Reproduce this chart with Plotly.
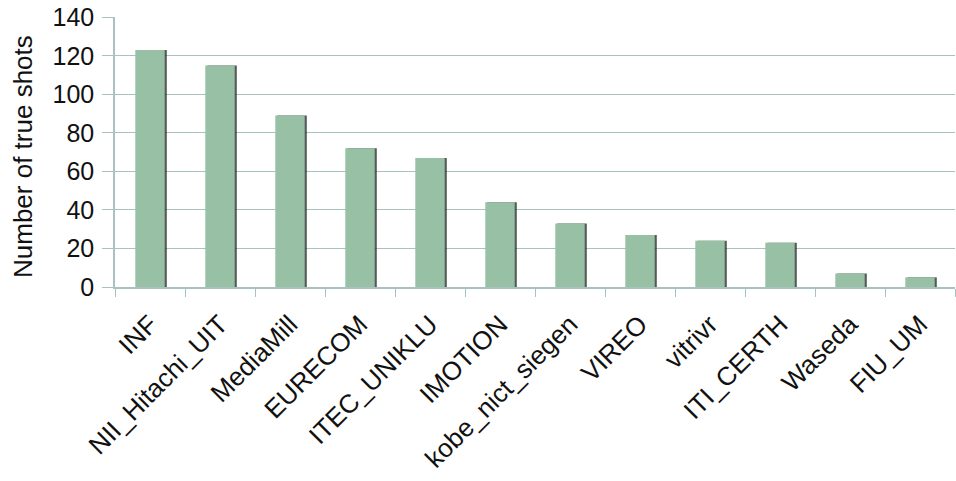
import plotly.graph_objects as go

teams = ["INF", "NII_Hitachi_UIT", "MediaMill", "EURECOM", "ITEC_UNIKLU", "IMOTION",
         "kobe_nict_siegen", "VIREO", "vitrivr", "ITI_CERTH", "Waseda", "FIU_UM"]
true_shots = [123, 115, 89, 72, 67, 44, 33, 27, 24, 23, 7, 5]
y_ticks = [0, 20, 40, 60, 80, 100, 120, 140]

FONT = "Liberation Sans, Arial, sans-serif"
GRID = "#A8C2C2"

fig = go.Figure()
# soft shadow behind each bar
fig.add_trace(go.Bar(x=teams, y=true_shots, width=0.42, offset=-0.18,
                     marker=dict(color="rgba(40,50,45,0.8)", line=dict(width=0)),
                     hoverinfo="skip", showlegend=False))
fig.add_trace(go.Bar(x=teams, y=true_shots, width=0.42, offset=-0.21,
                     marker=dict(color="#97C0A5", line=dict(width=0)),
                     showlegend=False))

fig.update_layout(
    width=956, height=481,
    margin=dict(l=115, r=1, t=17, b=194),
    paper_bgcolor="white", plot_bgcolor="white",
    barmode="overlay",
    font=dict(family=FONT, color="#111111"),
    annotations=[dict(text="Number of true shots", xref="paper", yref="paper",
                      x=0, y=0.5, xanchor="center", yanchor="middle",
                      xshift=-92, yshift=-5, textangle=-90, showarrow=False,
                      font=dict(size=26, family=FONT, color="#111111"))],
)
fig.update_xaxes(
    type="category", tickangle=-45, tickfont=dict(size=26, family=FONT),
    showgrid=False, showline=True, linecolor=GRID, linewidth=1.5,
    ticks="outside", tickson="boundaries", ticklen=8, tickcolor=GRID,
    ticklabelstandoff=10,
    range=[-0.5, 11.5], automargin=False,
)
fig.update_yaxes(
    range=[0, 140.2], tickvals=y_ticks, tickfont=dict(size=25, family=FONT),
    showgrid=True, gridcolor=GRID, gridwidth=1.2,
    showline=True, linecolor=GRID, linewidth=1.5,
    ticks="outside", ticklen=11, tickcolor=GRID, zeroline=False,
    ticklabelstandoff=3,
    automargin=False, ticklabeloverflow="allow",
)

fig.write_html("out.html", config={"displayModeBar": False},
               post_script="document.body.style.margin='0';document.body.style.overflow='hidden';")
